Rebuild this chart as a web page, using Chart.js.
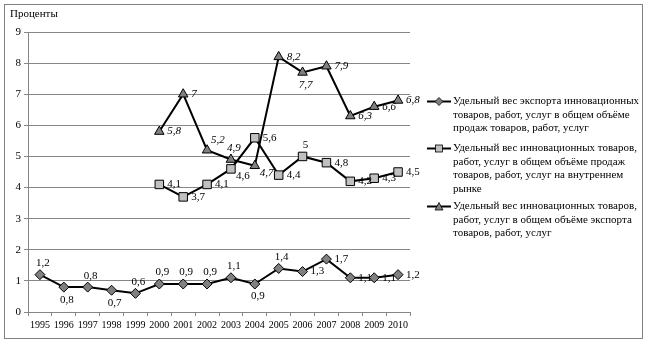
<!DOCTYPE html>
<html lang="ru">
<head>
    <meta charset="UTF-8">
    <title>Удельный вес инновационных товаров</title>
    <script src="https://cdn.jsdelivr.net/npm/chart.js"></script>
    <style>
        * { margin: 0; padding: 0; box-sizing: border-box; }
        body { background: #fff; width: 648px; height: 344px; overflow: hidden; }
        .wrap { position: relative; width: 648px; height: 344px; font-family: 'Liberation Serif', 'Times New Roman', serif; color: #000; }
        .frame { position: absolute; left: 4px; top: 4px; width: 639px; height: 335px; border: 1px solid #808080; }
        canvas { position: absolute; left: 0; top: 0; }
        .ytitle { position: absolute; left: 10px; top: 7px; font-size: 11px; }
        .legend-item { position: absolute; left: 427px; font-size: 11px; line-height: 13.5px; display: flex; }
        .legend-item svg { flex: none; margin-top: 1px; }
        .legend-item span { margin-left: 2px; white-space: nowrap; }
    </style>
</head>
<body>
<div class="wrap">
    <div class="frame"></div>
    <canvas id="chart" width="648" height="344"></canvas>
    <div class="ytitle">Проценты</div>
    <div class="legend-item" style="top:94px">
        <svg width="24" height="13"><line x1="0" y1="6.5" x2="24" y2="6.5" stroke="#000" stroke-width="2"/><polygon points="12,2.5 16,6.5 12,10.5 8,6.5" fill="#808080" stroke="#000" stroke-width="0.8"/></svg>
        <span>Удельный вес экспорта инновационных<br>товаров, работ, услуг в общем объёме<br>продаж товаров, работ, услуг</span>
    </div>
    <div class="legend-item" style="top:141px">
        <svg width="24" height="13"><line x1="0" y1="6.5" x2="24" y2="6.5" stroke="#000" stroke-width="2"/><rect x="8.5" y="3" width="7" height="7" fill="#c0c0c0" stroke="#000" stroke-width="0.8"/></svg>
        <span>Удельный вес инновационных товаров,<br>работ, услуг в общем объёме продаж<br>товаров, работ, услуг на внутреннем<br>рынке</span>
    </div>
    <div class="legend-item" style="top:199px">
        <svg width="24" height="13"><line x1="0" y1="6.5" x2="24" y2="6.5" stroke="#000" stroke-width="2"/><polygon points="12,2.5 16,10 8,10" fill="#808080" stroke="#000" stroke-width="0.8"/></svg>
        <span>Удельный вес инновационных товаров,<br>работ, услуг в общем объёме экспорта<br>товаров, работ, услуг</span>
    </div>
</div>
<script>
    // годы и значения (проценты)
    const years = ['1995','1996','1997','1998','1999','2000','2001','2002','2003','2004','2005','2006','2007','2008','2009','2010'];
    const exportShare = [1.2, 0.8, 0.8, 0.7, 0.6, 0.9, 0.9, 0.9, 1.1, 0.9, 1.4, 1.3, 1.7, 1.1, 1.1, 1.2];
    const domesticShare = [null, null, null, null, null, 4.1, 3.7, 4.1, 4.6, 5.6, 4.4, 5.0, 4.8, 4.2, 4.3, 4.5];
    const exportInnovShare = [null, null, null, null, null, 5.8, 7.0, 5.2, 4.9, 4.7, 8.2, 7.7, 7.9, 6.3, 6.6, 6.8];
    const yTicks = [0, 1, 2, 3, 4, 5, 6, 7, 8, 9];

    // где подписывать значения
    const exportLabelPos = ['above','below','above','below','above','above','above','above','above','below','above','right','right','right','right','right'];
    const domesticLabelPos = [null,null,null,null,null,'right','right','right','belowright','right','right','above','right','right','right','right'];
    const exportInnovLabelPos = [null,null,null,null,null,'right','right','aboveright','above','belowright','right','below','right','right','right','right'];

    const valueLabels = {
        id: 'valueLabels',
        afterDatasetsDraw(chart) {
            const ctx = chart.ctx;
            chart.data.datasets.forEach((ds, i) => {
                const meta = chart.getDatasetMeta(i);
                meta.data.forEach((pt, j) => {
                    const v = ds.data[j];
                    if (v === null) return;
                    const text = String(v).replace('.', ',');
                    const pos = ds.labelPos[j];
                    let x = pt.x, y = pt.y;
                    ctx.save();
                    ctx.font = (ds.italicLabels ? 'italic ' : '') + '11px "Liberation Serif", serif';
                    ctx.fillStyle = '#000';
                    if (pos === 'above') { ctx.textAlign = 'center'; ctx.textBaseline = 'bottom'; x += 3; y -= 6; }
                    else if (pos === 'below') { ctx.textAlign = 'center'; ctx.textBaseline = 'top'; x += 3; y += 7; }
                    else if (pos === 'aboveright') { ctx.textAlign = 'left'; ctx.textBaseline = 'bottom'; x += 4; y -= 5; }
                    else if (pos === 'belowright') { ctx.textAlign = 'left'; ctx.textBaseline = 'top'; x += 5; y += 2; }
                    else { ctx.textAlign = 'left'; ctx.textBaseline = 'middle'; x += 8; }
                    ctx.fillText(text, x, y);
                    ctx.restore();
                });
            });
        }
    };

    const ctx = document.getElementById('chart').getContext('2d');
    new Chart(ctx, {
        type: 'line',
        data: {
            labels: years,
            datasets: [{
                label: 'Удельный вес экспорта инновационных товаров, работ, услуг в общем объёме продаж товаров, работ, услуг',
                data: exportShare,
                labelPos: exportLabelPos,
                borderColor: '#000',
                borderWidth: 2,
                pointStyle: 'rectRot',
                pointRadius: 5,
                pointBackgroundColor: '#808080',
                pointBorderColor: '#000',
                pointBorderWidth: 1,
                tension: 0
            }, {
                label: 'Удельный вес инновационных товаров, работ, услуг в общем объёме продаж товаров, работ, услуг на внутреннем рынке',
                data: domesticShare,
                labelPos: domesticLabelPos,
                borderColor: '#000',
                borderWidth: 2,
                pointStyle: 'rect',
                pointRadius: 6,
                pointBackgroundColor: '#c0c0c0',
                pointBorderColor: '#000',
                pointBorderWidth: 1,
                tension: 0
            }, {
                label: 'Удельный вес инновационных товаров, работ, услуг в общем объёме экспорта товаров, работ, услуг',
                data: exportInnovShare,
                labelPos: exportInnovLabelPos,
                italicLabels: true,
                borderColor: '#000',
                borderWidth: 2,
                pointStyle: 'triangle',
                pointRadius: 5.5,
                pointBackgroundColor: '#808080',
                pointBorderColor: '#000',
                pointBorderWidth: 1,
                tension: 0
            }]
        },
        options: {
            responsive: false,
            animation: false,
            layout: { padding: { left: 4, top: 32, right: 238, bottom: 12 } },
            plugins: {
                legend: { display: false },
                tooltip: { enabled: false }
            },
            scales: {
                x: {
                    offset: true,
                    grid: { offset: true, drawOnChartArea: false, drawTicks: true, tickLength: 4, color: '#868686' },
                    border: { color: '#868686' },
                    ticks: { color: '#000', font: { family: '"Liberation Serif", serif', size: 10 }, padding: 3, maxRotation: 0, autoSkip: false },
                    afterFit(s) { s.height = 20; }
                },
                y: {
                    min: 0,
                    max: 9,
                    afterBuildTicks(s) { s.ticks = yTicks.map(v => ({ value: v })); },
                    grid: { color: '#868686', tickLength: 4 },
                    border: { color: '#868686' },
                    ticks: { color: '#000', font: { family: '"Liberation Serif", serif', size: 11 }, padding: 3 },
                    afterFit(s) { s.width = 24; }
                }
            }
        },
        plugins: [valueLabels]
    });
</script>
</body>
</html>
